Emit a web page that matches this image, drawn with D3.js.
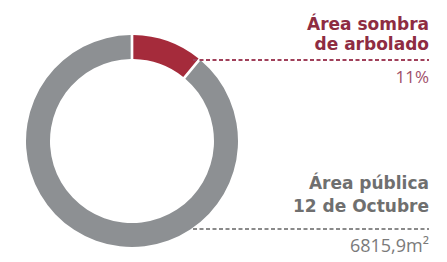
<!DOCTYPE html>
<html>
<head>
<meta charset="utf-8">
<script src="https://cdn.jsdelivr.net/npm/d3@7"></script>
<style>
body { margin: 0; background: #fff; }
</style>
</head>
<body>
<script>
// data
var categories = ["Área sombra de arbolado", "Área pública 12 de Octubre"];
var values = [11, 89];
var colors = ["#a52b3b", "#8d9093"];
var labelLines = [["Área sombra", "de arbolado"], ["Área pública", "12 de Octubre"]];
var valueLabels = ["11%", "6815,9m²"];

var W = 447, H = 262;
var cx = 132, cy = 141, rOut = 106, rIn = 82;

var svg = d3.select("body").append("svg")
	.attr("width", W)
	.attr("height", H);

var pie = d3.pie().sort(null).value(function(d) { return d; });
var arc = d3.arc().innerRadius(rIn).outerRadius(rOut).padAngle(0.02);

var g = svg.append("g").attr("transform", "translate(" + cx + "," + cy + ")");

g.selectAll("path")
	.data(pie(values))
	.enter()
	.append("path")
	.attr("d", arc)
	.style("fill", function(d, i) { return colors[i]; });

// labels
var textCol = ["#8e2c42", "#6f6f6f"];
var valCol = ["#a0506a", "#7a7a7a"];
var lineY = [60, 229];
var titleY = [30, 189];
var lineGap = [20, 23];
var valY = [83, 252];
var xRight = 429, xLineStart = [193, 193];
var titleF = "'DejaVu Sans', sans-serif";
var valF = "'Open Sans', 'DejaVu Sans', sans-serif";

var lab = svg.selectAll("g.lab")
	.data(categories)
	.enter()
	.append("g")
	.attr("class", "lab");

lab.each(function(d, i) {
	var sel = d3.select(this);
	sel.append("text")
		.attr("y", titleY[i])
		.attr("text-anchor", "end")
		.style("font-family", titleF)
		.style("font-weight", "bold")
		.style("font-size", "17px")
		.style("fill", textCol[i])
		.selectAll("tspan")
		.data(labelLines[i])
		.enter()
		.append("tspan")
		.attr("x", xRight)
		.attr("dy", function(t, j) { return j == 0 ? 0 : lineGap[i]; })
		.text(function(t) { return t; });

	sel.append("line")
		.attr("x1", xLineStart[i])
		.attr("x2", xRight)
		.attr("y1", lineY[i])
		.attr("y2", lineY[i])
		.style("stroke", i == 0 ? "#a0405a" : "#8a8a8a")
		.style("stroke-width", 2)
		.style("stroke-dasharray", "4,2.5");

	sel.append("text")
		.attr("x", xRight)
		.attr("y", valY[i])
		.attr("text-anchor", "end")
		.style("font-family", valF)
		.style("font-size", i == 0 ? "17px" : "18px")
		.style("fill", valCol[i])
		.text(valueLabels[i]);
});
</script>
</body>
</html>
